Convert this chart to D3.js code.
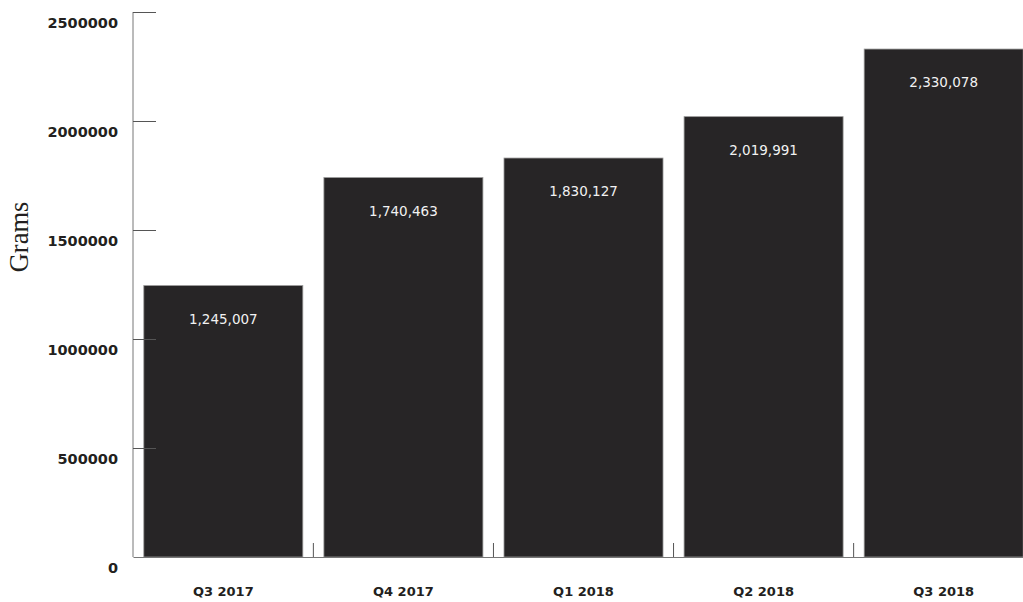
<!DOCTYPE html>
<html><head><meta charset="utf-8">
<script src="https://cdn.jsdelivr.net/npm/d3@7"></script>
<style>body{margin:0;background:#fff}svg{display:block}</style>
</head><body>
<svg id="c" width="1023" height="602"></svg>
<script>
const categories = ["Q3 2017","Q4 2017","Q1 2018","Q2 2018","Q3 2018"];
const values = [1245007, 1740463, 1830127, 2019991, 2330078];
const yTicks = [0, 500000, 1000000, 1500000, 2000000, 2500000];
const yTitle = "Grams";

const svg = d3.select("#c");
const x0 = 133, x1 = 1034, yTop = 12, yBot = 557;
const x = d3.scaleBand().domain(categories).range([x0, x1]).paddingInner(0.117).paddingOuter(0.06);
const y = d3.scaleLinear().domain([0, 2500000]).range([yBot, yTop]);

// bars
svg.selectAll("rect.bar").data(values).join("rect")
  .attr("class","bar")
  .attr("x",(d,i)=>x(categories[i]))
  .attr("width",x.bandwidth())
  .attr("y",d=>y(d))
  .attr("height",d=>yBot-y(d))
  .attr("fill","#272526")
  .attr("stroke","#9a9a9a").attr("stroke-width",0.8);

// value labels
svg.selectAll("text.val").data(values).join("text")
  .attr("class","val")
  .attr("x",(d,i)=>x(categories[i])+x.bandwidth()/2)
  .attr("y",d=>y(d)+38)
  .attr("text-anchor","middle")
  .attr("fill","#f2f2f2")
  .style("font-family","'DejaVu Sans', sans-serif")
  .style("font-size","13.5px")
  .text(d=>d3.format(",")(d));

// y axis
const yAx = svg.append("g").attr("transform",`translate(${x0},0)`)
  .call(d3.axisRight(y).tickValues(yTicks).tickSize(23).tickFormat(""));
yAx.select(".domain").attr("stroke","#777").attr("d",`M0,${yTop}V${yBot}`);
yAx.selectAll(".tick line").attr("stroke","#555");
yAx.selectAll(".tick").filter(d=>d===0).select("line").remove();

svg.selectAll("text.yt").data(yTicks).join("text")
  .attr("class","yt")
  .attr("x",118).attr("y",d=>y(d)+16)
  .attr("text-anchor","end")
  .attr("fill","#231f20")
  .style("font-family","'DejaVu Sans', sans-serif")
  .style("font-weight","bold")
  .style("font-size","14.5px")
  .text(d=>d);

// x axis
const xAx = svg.append("g").attr("transform",`translate(0,${yBot})`)
  .call(d3.axisBottom(x).tickSize(0).tickPadding(30));
xAx.select(".domain").attr("stroke","#777").attr("stroke-width",1.2);
xAx.selectAll(".tick text")
  .attr("fill","#231f20")
  .style("font-family","'DejaVu Sans', sans-serif")
  .style("font-weight","bold")
  .style("font-size","13px");

// category boundary ticks
const bounds = categories.slice(1).map(c=>x(c)-x.step()*x.paddingInner()/2);
svg.selectAll("line.bt").data(bounds).join("line")
  .attr("class","bt")
  .attr("x1",d=>d).attr("x2",d=>d)
  .attr("y1",yBot-14).attr("y2",yBot)
  .attr("stroke","#555");

// y title
svg.append("text")
  .attr("transform","translate(28,237) rotate(-90)")
  .attr("text-anchor","middle")
  .attr("fill","#231f20")
  .style("font-family","'Liberation Serif', serif")
  .style("font-size","26.5px")
  .text(yTitle);
</script>
</body></html>
